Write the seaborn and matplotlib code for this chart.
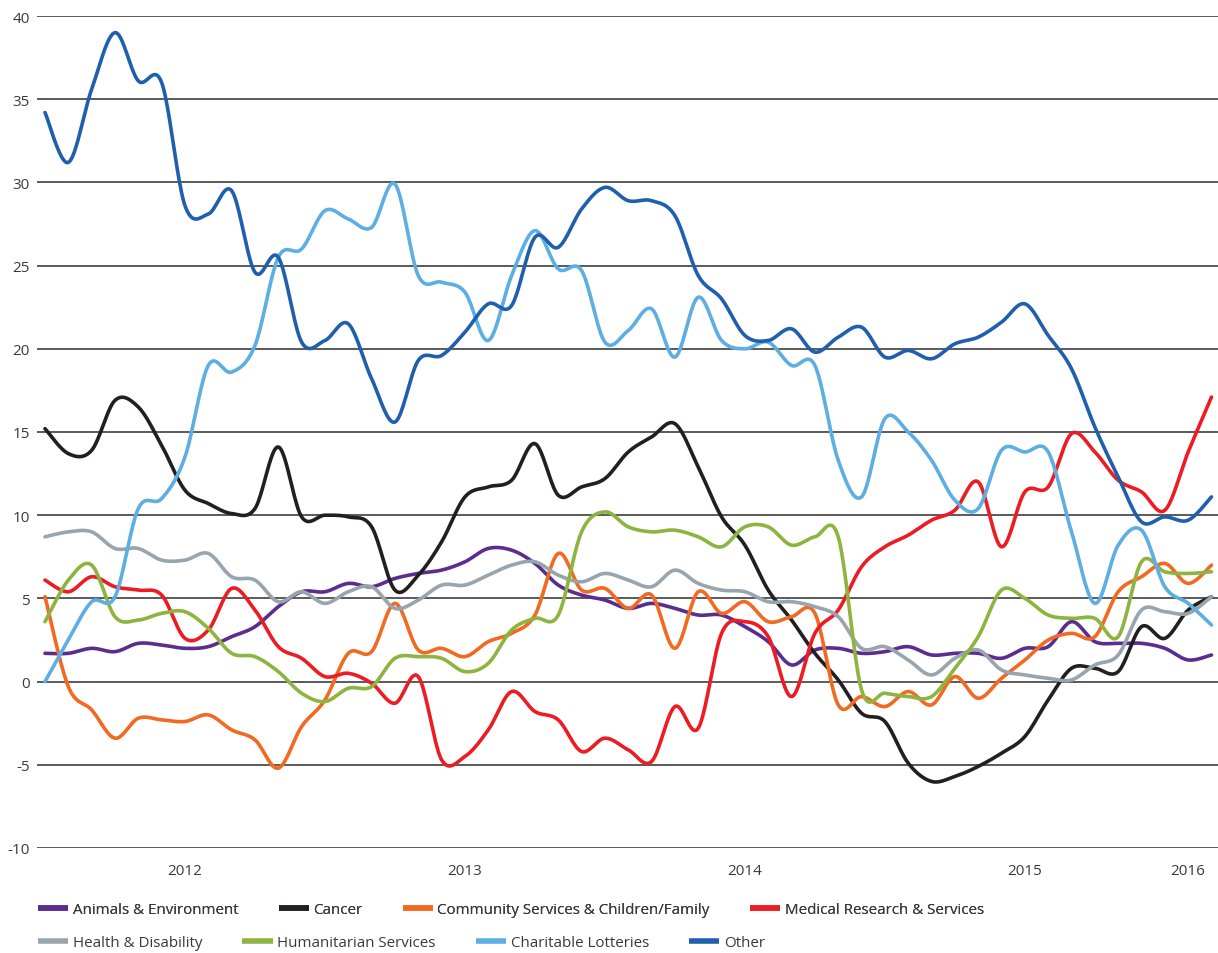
import numpy as np
import pandas as pd
import matplotlib
matplotlib.use("Agg")
import matplotlib.pyplot as plt
from matplotlib.lines import Line2D
import seaborn as sns

# monthly values, Jan 2012 .. Mar 2016
months = np.arange(51)

animals = [1.7, 1.7, 2.0, 1.8, 2.3, 2.2, 2.0, 2.1, 2.7, 3.3, 4.5, 5.4, 5.4,
           5.9, 5.7, 6.2, 6.5, 6.7, 7.2, 8.0, 7.9, 7.1, 5.8, 5.2, 4.9,
           4.4, 4.7, 4.4, 4.0, 4.0, 3.3, 2.4, 1.0, 1.9, 2.0, 1.7, 1.8,
           2.1, 1.6, 1.7, 1.7, 1.4, 2.0, 2.1, 3.6, 2.4, 2.3, 2.3, 2.0,
           1.3, 1.6]
cancer = [15.2, 13.7, 13.9, 16.9, 16.5, 14.2, 11.5, 10.7, 10.1, 10.4, 14.1, 9.9, 10.0,
          9.9, 9.3, 5.5, 6.4, 8.4, 11.1, 11.7, 12.1, 14.3, 11.2, 11.7, 12.2,
          13.8, 14.7, 15.5, 12.9, 9.9, 8.2, 5.5, 3.7, 1.7, 0.1, -1.9, -2.4,
          -4.9, -6.0, -5.7, -5.1, -4.3, -3.3, -1.1, 0.8, 0.8, 0.6, 3.3, 2.6,
          4.3, 5.1]
community = [5.1, -0.3, -1.7, -3.4, -2.2, -2.3, -2.4, -2.0, -2.9, -3.5, -5.2, -2.7, -1.1,
             1.7, 1.8, 4.7, 1.9, 2.0, 1.5, 2.4, 2.9, 4.0, 7.7, 5.5, 5.6,
             4.4, 5.2, 2.0, 5.4, 4.1, 4.8, 3.6, 3.9, 4.1, -1.4, -0.9, -1.5,
             -0.6, -1.4, 0.3, -1.0, 0.2, 1.3, 2.5, 2.9, 2.7, 5.4, 6.3, 7.1,
             5.9, 7.0]
medical = [6.1, 5.4, 6.3, 5.7, 5.5, 5.2, 2.6, 3.1, 5.6, 4.3, 2.1, 1.4, 0.3,
           0.5, -0.1, -1.3, 0.3, -4.7, -4.5, -2.9, -0.6, -1.8, -2.3, -4.2, -3.4,
           -4.1, -4.8, -1.5, -2.8, 2.9, 3.6, 2.7, -0.9, 2.9, 4.3, 6.9, 8.1,
           8.8, 9.7, 10.3, 12.0, 8.1, 11.4, 11.7, 14.9, 13.8, 12.1, 11.4, 10.3,
           13.8, 17.1]
health = [8.7, 9.0, 9.0, 8.0, 8.0, 7.3, 7.3, 7.7, 6.3, 6.1, 4.8, 5.4, 4.7,
          5.4, 5.7, 4.4, 4.9, 5.8, 5.8, 6.4, 7.0, 7.2, 6.4, 6.0, 6.5,
          6.1, 5.7, 6.7, 5.9, 5.5, 5.4, 4.8, 4.8, 4.5, 3.9, 2.0, 2.1,
          1.3, 0.4, 1.4, 1.9, 0.7, 0.4, 0.2, 0.1, 1.0, 1.6, 4.3, 4.2,
          4.1, 5.1]
humanitarian = [3.6, 6.1, 7.0, 3.9, 3.7, 4.1, 4.2, 3.2, 1.7, 1.5, 0.6, -0.7, -1.2,
                -0.4, -0.3, 1.4, 1.5, 1.4, 0.6, 1.1, 3.1, 3.8, 4.0, 9.0, 10.2,
                9.3, 9.0, 9.1, 8.7, 8.1, 9.3, 9.3, 8.2, 8.7, 8.7, -0.5, -0.7,
                -0.9, -0.9, 0.8, 2.7, 5.5, 5.0, 4.0, 3.8, 3.8, 2.7, 7.2, 6.6,
                6.5, 6.6]
lotteries = [0.0, 2.5, 4.8, 5.1, 10.4, 11.0, 13.5, 19.0, 18.6, 20.2, 25.5, 26.0, 28.3,
             27.8, 27.3, 29.9, 24.4, 24.0, 23.4, 20.5, 24.4, 27.1, 24.8, 24.7, 20.4,
             21.1, 22.4, 19.5, 23.1, 20.5, 20.0, 20.4, 19.0, 19.0, 13.3, 11.1, 15.8,
             15.0, 13.3, 10.9, 10.4, 13.9, 13.8, 13.8, 9.0, 4.7, 8.2, 9.1, 5.7,
             4.7, 3.4]
other = [34.2, 31.2, 35.6, 39.0, 36.1, 36.0, 28.6, 28.1, 29.5, 24.6, 25.5, 20.4, 20.5,
         21.5, 18.2, 15.6, 19.3, 19.6, 21.0, 22.7, 22.6, 26.7, 26.1, 28.4, 29.7,
         28.9, 28.9, 28.0, 24.4, 23.0, 20.8, 20.5, 21.2, 19.8, 20.7, 21.3, 19.5,
         19.9, 19.4, 20.3, 20.7, 21.6, 22.7, 20.8, 18.8, 15.3, 12.3, 9.6, 9.9,
         9.7, 11.1]

series_names = ["Animals & Environment", "Cancer", "Community Services & Children/Family",
                "Medical Research & Services", "Health & Disability", "Humanitarian Services",
                "Charitable Lotteries", "Other"]
series_values = [animals, cancer, community, medical, health, humanitarian, lotteries, other]
series_colors = ["#5b2d8e", "#231f20", "#f26a21", "#ed1c24",
                 "#98a4ae", "#8db43e", "#5daee2", "#1f5fad"]

year_edges = [0, 12, 24, 36, 48]
year_centres = [6, 18, 30, 42, 49]
year_labels = ["2012", "2013", "2014", "2015", "2016"]
y_ticks = list(range(-10, 41, 5))


def smooth(x, y, n=20):
    # Excel-style smoothed line (cubic bezier through every point)
    x = np.asarray(x, float)
    y = np.asarray(y, float)
    px = np.concatenate([[x[0]], x, [x[-1]]])
    py = np.concatenate([[y[0]], y, [y[-1]]])
    t = np.linspace(0, 1, n, endpoint=False)[:, None]
    i = np.arange(len(x) - 1)
    def bez(p, q):
        c1 = q[i] + (p[i + 2] - p[i]) / 6
        c2 = q[i + 1] - (p[i + 3] - p[i + 1]) / 6
        b = ((1 - t) ** 3 * q[i] + 3 * (1 - t) ** 2 * t * c1
             + 3 * (1 - t) * t ** 2 * c2 + t ** 3 * q[i + 1])
        return np.append(b.T.ravel(), q[-1])
    return bez(px, x), bez(py, y)


frames = []
for name, vals in zip(series_names, series_values):
    sx, sy = smooth(months, vals)
    frames.append(pd.DataFrame({"month": sx, "value": sy, "series": name}))
df = pd.concat(frames, ignore_index=True)

sns.set_theme(style="white")
plt.rcParams["font.family"] = ["Open Sans", "DejaVu Sans"]

fig = plt.figure(figsize=(12.18, 9.54), dpi=100)
ax = fig.add_axes([37 / 1218, 1 - 849 / 954, 1 - 37 / 1218, (849 - 17) / 954])

for v in y_ticks:
    ax.axhline(v, color="#5a5a5a", lw=1.4, zorder=1)

sns.lineplot(data=df, x="month", y="value", hue="series", hue_order=series_names,
             palette=dict(zip(series_names, series_colors)), estimator=None, sort=False,
             lw=2.6, legend=False, ax=ax, zorder=3)

ax.set_xlim(-8 / 23.33, (1218 - 45) / 23.33)
ax.set_ylim(-10, 40)
ax.set_xlabel("")
ax.set_ylabel("")
for s in ax.spines.values():
    s.set_visible(False)

ax.set_yticks(y_ticks)
ax.set_yticklabels([str(v) for v in y_ticks])
ax.tick_params(axis="y", length=0, pad=5, labelsize=11, labelcolor="#3a3a3a")

ax.set_xticks(year_edges)
ax.set_xticklabels([])
ax.set_xticks(year_centres, minor=True)
ax.set_xticklabels(year_labels, minor=True)
ax.tick_params(axis="x", which="major", length=8, width=1.3, color="#3a3a3a", direction="out")
ax.tick_params(axis="x", which="minor", length=0, pad=11, labelsize=11, labelcolor="#3a3a3a")

handles = [Line2D([], [], color=c, lw=4, solid_capstyle="butt") for c in series_colors]
row_y = [1 - 911 / 954, 1 - 944 / 954]
for r in range(2):
    leg = fig.legend(handles[4 * r:4 * r + 4], series_names[4 * r:4 * r + 4], ncol=4,
                     loc="center left", bbox_to_anchor=(38 / 1218, row_y[r]),
                     frameon=False, fontsize=10.9, handlelength=2.0, handletextpad=0.3,
                     columnspacing=2.65, borderpad=0, borderaxespad=0)
    for t in leg.get_texts():
        t.set_color("#3a3a3a")
    if r == 0:
        fig.add_artist(leg)

fig.savefig("out.png", dpi=100)
